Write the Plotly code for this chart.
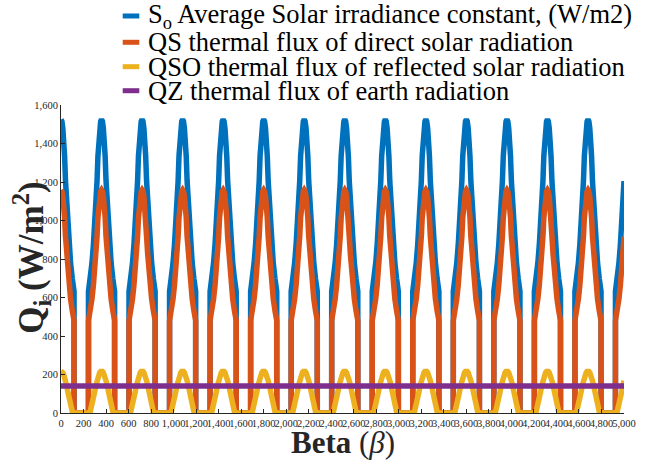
import plotly.graph_objects as go

# ---- data ----
period_centers = [0, 360, 720, 1080, 1440, 1800, 2160, 2520, 2880, 3240, 3600, 3960, 4320, 4680, 5040]
beta_max = 5000
half_offsets = [0, 8, 16, 24, 32, 40, 50, 60, 72, 85, 100, 116]          # offset from a peak
so_half = [1525, 1515, 1480, 1420, 1335, 1205, 1085, 980, 875, 780, 700, 632]    # S_o
qs_half = [1159, 1151, 1125, 1079, 1015, 916, 825, 745, 665, 593, 532, 480]      # QS
qso_half = [218, 216, 210, 200, 186, 168, 143, 112, 74, 38, 8, 0]               # QSO
qz_beta = [0, 5000]
qz_vals = [140, 140]                                                             # QZ

names = ["S<sub>o</sub> Average Solar irradiance constant, (W/m2)",
         "QS thermal flux of direct solar radiation",
         "QSO thermal flux of reflected solar radiation",
         "QZ thermal flux of earth radiation"]
colors = ["#0072BD", "#D95319", "#EDB120", "#7E2F8E"]


def build(half_vals):
    xs, ys = [], []
    offs = [-o for o in half_offsets[::-1]] + half_offsets[1:]
    vals = half_vals[::-1] + half_vals[1:]
    for c in period_centers:
        seg_x = [c + offs[0]] + [c + o for o in offs] + [c + offs[-1]]
        seg_y = [0] + vals + [0]
        for x, y in zip(seg_x, seg_y):
            if 0 <= x <= beta_max:
                xs.append(x)
                ys.append(y)
    return xs, ys


fig = go.Figure()
for half, name, col in zip([so_half, qs_half, qso_half], names[:3], colors[:3]):
    bx, by = build(half)
    fig.add_trace(go.Scatter(x=bx, y=by, mode="lines", name=name, showlegend=False,
                             line=dict(color=col, width=5.5)))
fig.add_trace(go.Scatter(x=qz_beta, y=qz_vals, mode="lines", name=names[3], showlegend=False,
                         line=dict(color=colors[3], width=5.5)))

SERIF = "'Liberation Serif', 'DejaVu Serif', 'Times New Roman', serif"
axis_col = "#262626"
tick_font = dict(family=SERIF, size=10.5, color=axis_col)
fig.update_xaxes(range=[0, 5000], tickvals=list(range(0, 5001, 200)), tickformat=",",
                 tickangle=0, showline=True, linecolor=axis_col, linewidth=1,
                 ticks="inside", ticklen=4, tickcolor=axis_col, showgrid=False,
                 zeroline=False, tickfont=tick_font)
fig.update_yaxes(range=[0, 1600], tickvals=list(range(0, 1601, 200)), tickformat=",",
                 showline=True, linecolor=axis_col, linewidth=1,
                 ticks="inside", ticklen=4, tickcolor=axis_col, showgrid=False,
                 zeroline=False, tickfont=tick_font)

fig.add_annotation(text="<b>Beta</b> (<i>β</i>)", xref="paper", yref="paper",
                   x=0.5, y=-0.097, xanchor="center", yanchor="middle", showarrow=False,
                   font=dict(family=SERIF, size=31, color=axis_col))
fig.add_annotation(text="<b>Q<sub>i</sub> (W/m<sup>2</sup>)</b>", xref="paper", yref="paper",
                   x=-0.054, y=0.503, xanchor="center", yanchor="middle", showarrow=False,
                   textangle=-90, font=dict(family=SERIF, size=35, color=axis_col))

# legend drawn as key lines + text
legend_y = [1.289, 1.2036, 1.1244, 1.0464]
for name, col, ly in zip(names, colors, legend_y):
    fig.add_shape(type="line", xref="paper", yref="paper", x0=0.1096, x1=0.1391,
                  y0=ly, y1=ly, line=dict(color=col, width=5))
    fig.add_annotation(text=name, xref="paper", yref="paper", x=0.1501, y=ly,
                       xanchor="left", yanchor="middle", showarrow=False,
                       font=dict(family=SERIF, size=26.5, color="#000000"))

fig.update_layout(
    width=648, height=462,
    margin=dict(l=61, r=12, t=105, b=49),
    paper_bgcolor="white", plot_bgcolor="white",
    showlegend=False,
)

fig.write_html("out.html")
